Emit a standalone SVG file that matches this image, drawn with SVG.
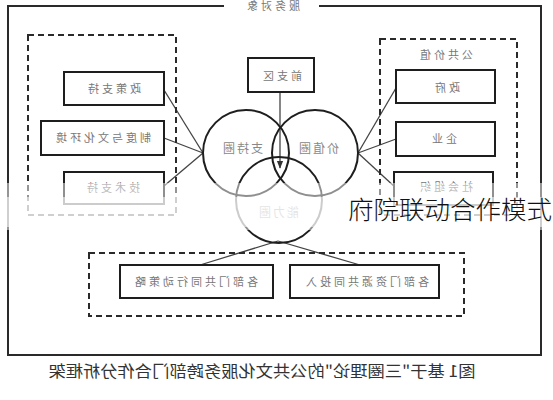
<svg xmlns="http://www.w3.org/2000/svg" width="553" height="400" viewBox="0 0 553 400">
<defs>
<style>
.frame{fill:none;stroke:#2a2a2a;stroke-width:2}
.dash{fill:none;stroke:#2a2a2a;stroke-width:2;stroke-dasharray:6 4}
.box{fill:#fff;stroke:#1e1e1e;stroke-width:2}
.circ{fill:none;stroke:#1e1e1e;stroke-width:2}
.conn{fill:none;stroke:#444;stroke-width:1.3}
.lbl{font-family:"Noto Sans CJK SC","Liberation Sans",sans-serif;font-size:11px;fill:#777;text-anchor:middle;letter-spacing:3px}
.clbl{font-family:"Noto Sans CJK SC","Liberation Sans",sans-serif;font-size:12px;fill:#888;text-anchor:middle;letter-spacing:2px}
.cap{font-family:"Noto Sans CJK SC","Liberation Sans",sans-serif;font-size:16px;fill:#333;text-anchor:middle}
</style>
<marker id="arr" viewBox="0 0 10 10" refX="9" refY="5" markerWidth="6" markerHeight="6" orient="auto">
<path d="M0,1 L10,5 L0,9 z" fill="#333"/>
</marker>
</defs>
<rect width="553" height="400" fill="#fff"/>

<g id="frame">
<polyline class="frame" points="224,6 8,6 8,355 541,355 541,6 319,6"/>
<text class="lbl" x="-272" y="10" transform="scale(-1,1)">服务对象</text>
</g>

<g id="connectors">
<line class="conn" x1="164" y1="90" x2="203" y2="153"/>
<line class="conn" x1="164" y1="138" x2="203" y2="153"/>
<line class="conn" x1="164" y1="186" x2="203" y2="153"/>
<line class="conn" x1="358" y1="153" x2="396" y2="88"/>
<line class="conn" x1="358" y1="153" x2="396" y2="139"/>
<line class="conn" x1="358" y1="153" x2="396" y2="188"/>
<line class="conn" x1="278" y1="241" x2="200" y2="265"/>
<line class="conn" x1="278" y1="241" x2="360" y2="265"/>
<line class="conn" x1="280" y1="92" x2="280" y2="168" marker-end="url(#arr)"/>
</g>

<g id="left-group">
<rect class="dash" x="28" y="35" width="148" height="180"/>
<g id="policy"><rect class="box" x="64" y="72" width="100" height="33"/><text class="lbl" x="-113" y="93" transform="scale(-1,1)">政策支持</text></g>
<g id="institution"><rect class="box" x="41" y="121" width="123" height="34"/><text class="lbl" x="-102" y="142" transform="scale(-1,1)">制度与文化环境</text></g>
<g id="tech"><rect class="box" x="64" y="172" width="100" height="32"/><text class="lbl" x="-112" y="192" transform="scale(-1,1)">技术支持</text></g>
</g>

<g id="right-group">
<rect class="dash" x="380" y="39" width="137" height="176"/>
<text class="lbl" x="-445" y="59" transform="scale(-1,1)">公共价值</text>
<g id="gov"><rect class="box" x="396" y="70" width="99" height="33"/><text class="lbl" x="-446" y="92" transform="scale(-1,1)">政府</text></g>
<g id="enterprise"><rect class="box" x="396" y="122" width="99" height="34"/><text class="lbl" x="-443" y="143" transform="scale(-1,1)">企业</text></g>
<g id="social"><rect class="box" x="394" y="172" width="99" height="33"/><text class="lbl" x="-445" y="191" transform="scale(-1,1)">社会组织</text></g>
</g>

<g id="zone">
<rect class="box" x="248" y="58" width="66" height="34"/>
<text class="lbl" x="-281" y="80" transform="scale(-1,1)">前支区</text>
</g>

<g id="circles">
<g id="support"><circle class="circ" cx="246" cy="153" r="43"/></g>
<g id="value"><circle class="circ" cx="315" cy="153" r="43"/></g>
<g id="capacity"><circle class="circ" cx="279" cy="200" r="43"/></g>
<text class="clbl" x="-242" y="153" transform="scale(-1,1)">支持圈</text>
<text class="clbl" x="-318" y="153" transform="scale(-1,1)">价值圈</text>
<text class="clbl" x="-278" y="217" transform="scale(-1,1)">能力圈</text>
</g>

<g id="bottom-group">
<rect class="dash" x="89" y="253" width="375" height="63"/>
<g id="action"><rect class="box" x="120" y="265" width="153" height="33"/><text class="lbl" x="-195" y="286" transform="scale(-1,1)">各部门共同行动策略</text></g>
<g id="resource"><rect class="box" x="290" y="265" width="149" height="33"/><text class="lbl" x="-366" y="286" transform="scale(-1,1)">各部门资源共同投入</text></g>
</g>

<rect x="0" y="183" width="553" height="47" fill="#fff" opacity="0.5"/>
<rect x="0" y="197" width="553" height="30" fill="#fff" opacity="0.55"/>

<text class="cap" x="-262" y="377" transform="scale(-1,1)" textLength="427" lengthAdjust="spacingAndGlyphs">图1  基于"三圈理论"的公共文化服务跨部门合作分析框架</text>

<text x="348" y="219" font-family="'Noto Sans CJK SC',sans-serif" font-size="25" font-weight="300" fill="#111" textLength="204" lengthAdjust="spacingAndGlyphs">府院联动合作模式</text>
</svg>
